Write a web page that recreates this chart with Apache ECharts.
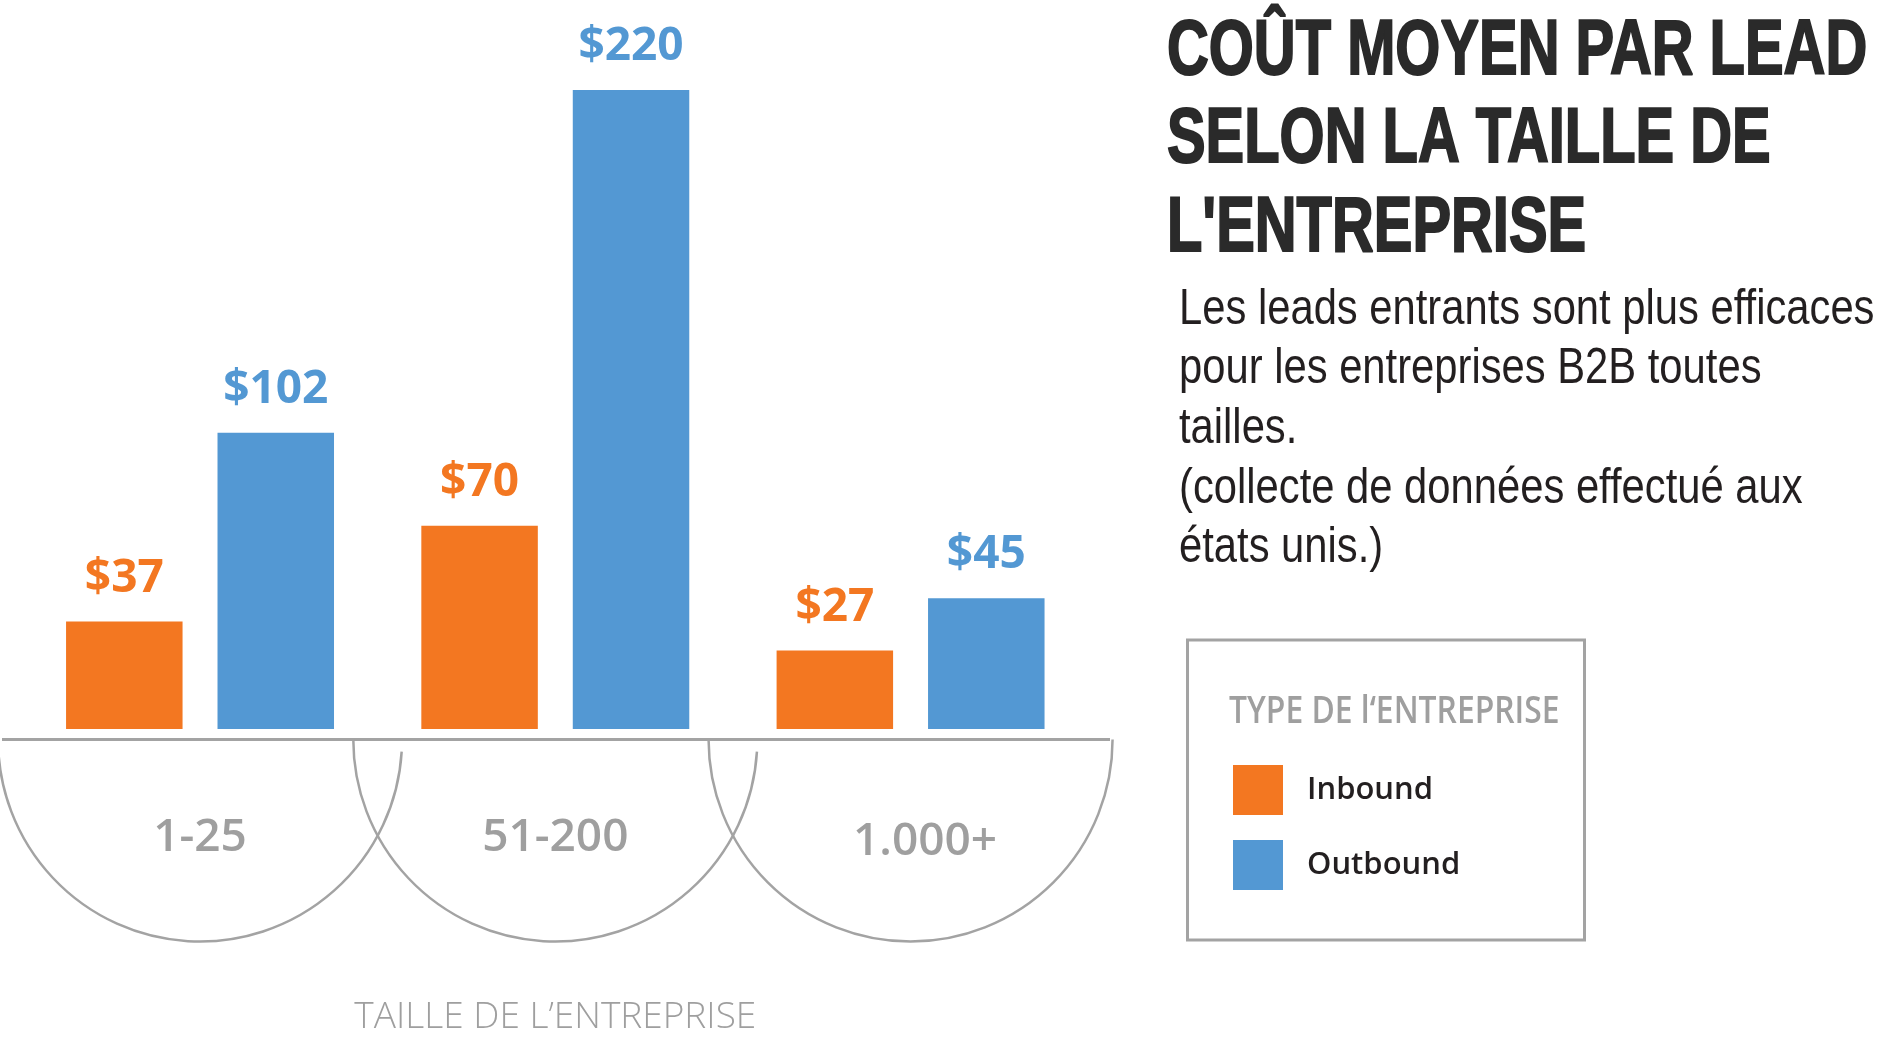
<!DOCTYPE html>
<html>
<head>
<meta charset="utf-8">
<script src="https://cdn.jsdelivr.net/npm/echarts@6/dist/echarts.min.js"></script>
<style>
html,body{margin:0;padding:0;background:#fff;}
#chart{width:1890px;height:1041px;}
</style>
</head>
<body>
<div id="chart"></div>
<script>
// ---- data ----
const categories = ['1-25', '51-200', '1.000+'];
const seriesNames = ['Inbound', 'Outbound'];
const inbound = [37, 70, 27];
const outbound = [102, 220, 45];
const titleLines = ['COÛT MOYEN PAR LEAD', 'SELON LA TAILLE DE', "L'ENTREPRISE"];
const subtitleLines = [
  'Les leads entrants sont plus efficaces',
  'pour les entreprises B2B toutes',
  'tailles.',
  '(collecte de données effectué aux',
  'états unis.)'
];
const axisName = 'TAILLE DE L’ENTREPRISE';
const legendTitle = 'TYPE DE l‘ENTREPRISE';

// ---- style ----
const ORANGE = '#F37721';
const BLUE = '#5398D3';
const GREY = '#9f9f9f';

const chart = echarts.init(document.getElementById('chart'), null, {renderer: 'canvas'});

const labelStyle = (color) => ({
  show: true,
  position: 'top',
  distance: 20,
  color: color,
  fontFamily: '"Open Sans"',
  fontWeight: 'bold',
  fontSize: 46,
  formatter: p => '$' + p.value
});

chart.setOption({
  animation: false,
  backgroundColor: '#ffffff',
  grid: {left: 22.4, right: 801.8, top: 90, bottom: 309, containLabel: false},
  legend: {
    data: seriesNames,
    orient: 'vertical',
    left: 1233,
    top: 765,
    padding: 0,
    itemWidth: 50,
    itemHeight: 50,
    itemGap: 25,
    icon: 'rect',
    selectedMode: false,
    textStyle: {
      fontFamily: '"Open Sans"',
      fontWeight: 600,
      fontSize: 31,
      color: '#231f20',
      padding: [9, 0, 0, 19]
    }
  },
  xAxis: {
    type: 'category',
    data: categories.map((c, i) => i === 2 ? {value: c, textStyle: {padding: [4, 0, 0, 29]}} : c),
    axisLine: {show: false},
    axisTick: {show: false},
    splitLine: {show: false},
    axisLabel: {
      margin: 86,
      color: GREY,
      fontFamily: '"Open Sans"',
      fontWeight: 600,
      fontSize: 46
    },
    name: axisName,
    nameLocation: 'middle',
    nameGap: 270,
    nameTextStyle: {
      color: GREY,
      fontFamily: '"Open Sans"',
      fontWeight: 300,
      fontSize: 37
    }
  },
  yAxis: {
    type: 'value',
    min: 0,
    max: 220,
    show: false,
    splitLine: {show: false}
  },
  series: [
    {
      name: seriesNames[0],
      type: 'bar',
      data: inbound,
      barWidth: 116.5,
      barGap: '30%',
      itemStyle: {color: ORANGE},
      label: labelStyle(ORANGE)
    },
    {
      name: seriesNames[1],
      type: 'bar',
      data: outbound,
      barWidth: 116.5,
      barGap: '30%',
      itemStyle: {color: BLUE},
      label: labelStyle(BLUE)
    }
  ]
});

// decorations anchored to the category scale
const base = chart.convertToPixel({gridIndex: 0}, [0, 0])[1];
const lineY = base + 10.5;
const centers = categories.map((c, i) => chart.convertToPixel({gridIndex: 0}, [i, 0])[0]);
const R = 202;
const elements = [];

elements.push({
  type: 'line',
  shape: {x1: 2, y1: lineY, x2: 1110, y2: lineY},
  style: {stroke: '#a3a3a3', lineWidth: 3}
});
centers.forEach((cx, i) => {
  elements.push({
    type: 'arc',
    shape: {cx: cx, cy: lineY, r: R, startAngle: i < 2 ? 0.06 : 0, endAngle: Math.PI, clockwise: true},
    style: {stroke: '#a3a3a3', lineWidth: 2.5, fill: null}
  });
});

// title
const titleCenters = [53, 141, 230];
titleLines.forEach((t, i) => {
  elements.push({
    type: 'text',
    x: 1167,
    y: titleCenters[i],
    scaleX: 0.752,
    style: {
      text: t,
      x: 0, y: 0,
      font: 'bold 77px "Liberation Sans", Arial, sans-serif',
      fill: '#2a2a2a',
      stroke: '#2a2a2a',
      lineWidth: 2,
      textAlign: 'left',
      textVerticalAlign: 'middle'
    }
  });
});

// subtitle
elements.push({
  type: 'text',
  x: 1179,
  y: 280,
  scaleX: 0.835,
  style: {
    text: subtitleLines.join('\n'),
    x: 0, y: 0,
    font: '50px "Liberation Sans", Arial, sans-serif',
    lineHeight: 59.7,
    fill: '#231f20',
    textAlign: 'left',
    textVerticalAlign: 'top'
  }
});

// legend frame and title
elements.push({
  type: 'rect',
  shape: {x: 1187.5, y: 640, width: 397, height: 300},
  style: {fill: null, stroke: '#a3a3a3', lineWidth: 3}
});
elements.push({
  type: 'text',
  x: 1229,
  y: 712,
  scaleX: 0.838,
  style: {
    text: legendTitle,
    x: 0, y: 0,
    font: '600 38px "Open Sans"',
    fill: GREY,
    textAlign: 'left',
    textVerticalAlign: 'middle'
  }
});

chart.setOption({graphic: {elements: elements}});
</script>
</body>
</html>
